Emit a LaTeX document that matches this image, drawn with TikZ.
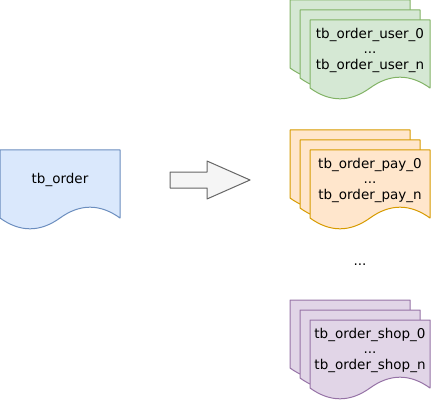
\documentclass[tikz,border=0pt]{standalone}
\usepackage{fontspec}
\setmainfont{DejaVu Sans}
\usetikzlibrary{positioning}

% colours of the document shapes
\definecolor{bluefill}{HTML}{DAE8FC}\definecolor{bluedraw}{HTML}{6C8EBF}
\definecolor{greenfill}{HTML}{D5E8D4}\definecolor{greendraw}{HTML}{82B366}
\definecolor{orangefill}{HTML}{FFE6CC}\definecolor{orangedraw}{HTML}{D79B00}
\definecolor{purplefill}{HTML}{E1D5E7}\definecolor{purpledraw}{HTML}{9673A6}
\definecolor{arrowfill}{HTML}{F5F5F5}\definecolor{arrowdraw}{HTML}{666666}

\tikzset{
  docblue/.style={fill=bluefill, draw=bluedraw},
  docgreen/.style={fill=greenfill, draw=greendraw},
  docorange/.style={fill=orangefill, draw=orangedraw},
  docpurple/.style={fill=purplefill, draw=purpledraw},
  doctext/.style={align=center, inner sep=0pt, font=\fontsize{13.5}{15.5}\selectfont},
  pics/doc/.style={code={
    \draw[#1] (0,0) -- (120,0) -- (120,68)
      .. controls (100,53.6) and (80,53.6) .. (60,68)
      .. controls (40,82.4) and (20,82.4) .. (0,68) -- cycle;
  }},
  pics/docstack/.style={code={
    \pic at (0,0) {doc=#1};
    \pic at (10,10) {doc=#1};
    \pic at (20,20) {doc=#1};
  }}
}

\begin{document}
\begin{tikzpicture}[x=1pt, y=-1pt, line width=1pt, line join=round]
  \useasboundingbox (0,0) rectangle (431,401);

  % Source table
  \pic at (0,150) {doc=docblue};
  \node[doctext] (order) at (60,180) {tb\_order};

  % Block arrow
  \coordinate (arrowtail) at (170,180);
  \draw[fill=arrowfill, draw=arrowdraw] (arrowtail) ++(0,-8) -- ++(37,0) -- ++(0,-11)
    -- ++(43,19) -- ++(-43,19) -- ++(0,-11) -- ++(-37,0) -- cycle;

  % Sharded tables
  \pic at (290,0) {docstack=docgreen};
  \node[doctext] (user) at (370,50) {tb\_order\_user\_0\\...\\tb\_order\_user\_n};

  \pic at (290,130) {docstack=docorange};
  \node[doctext] (pay) at (370,180) {tb\_order\_pay\_0\\...\\tb\_order\_pay\_n};

  \node[doctext] (more) at (360,265) {...};

  \pic at (290,300) {docstack=docpurple};
  \node[doctext] (shop) at (370,350) {tb\_order\_shop\_0\\...\\tb\_order\_shop\_n};
\end{tikzpicture}
\end{document}
